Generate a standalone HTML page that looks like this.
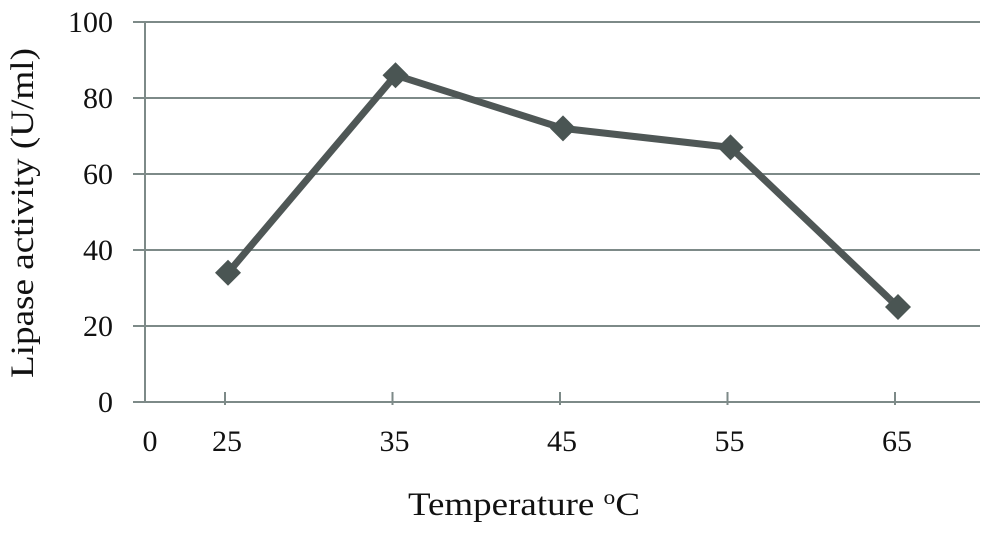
<!DOCTYPE html>
<html><head><meta charset="utf-8"><style>
body{margin:0;background:#fff;}
svg text{font-family:"Liberation Serif",serif;fill:#111;}
</style></head><body>
<svg width="1000" height="542" viewBox="0 0 1000 542">
<g id="grid"></g><g id="axes"></g><g id="series"></g><g id="labels"></g>
<text x="524" y="515" font-size="33" text-anchor="middle" textLength="232" lengthAdjust="spacingAndGlyphs">Temperature <tspan font-size="21" dy="-11">o</tspan><tspan dy="11">C</tspan></text>
<text transform="translate(33,213) rotate(-90)" font-size="33" text-anchor="middle" textLength="330" lengthAdjust="spacingAndGlyphs">Lipase activity (U/ml)</text>
</svg>
<script>
const categories=["25","35","45","55","65"];
const values=[34,86,72,67,25];
const yTicks=[0,20,40,60,80,100];
const NS="http://www.w3.org/2000/svg";
const L=145,R=980,T=22,B=402;
function y(v){return B-(v/100)*(B-T);}
function x(i){return 228+i*167.5;}
function mk(tag,attrs,parent){const e=document.createElementNS(NS,tag);for(const k in attrs)e.setAttribute(k,attrs[k]);parent.appendChild(e);return e;}
const grid=document.getElementById('grid'),axes=document.getElementById('axes'),series=document.getElementById('series'),labels=document.getElementById('labels');
yTicks.forEach(t=>{
 const g=mk('line',{x1:133,x2:R,y1:y(t),y2:y(t),stroke:'#7d8a88','stroke-width':2},grid);
 
 
 const tx=mk('text',{x:113,y:y(t)+10,'font-size':30,'text-anchor':'end'},labels);
 tx.textContent=t;
 
 
});
const ya=mk('line',{x1:L,x2:L,y1:T,y2:B,stroke:'#7d8a88','stroke-width':2},axes);


const zl=mk('text',{x:150,y:451,'font-size':30,'text-anchor':'middle'},labels);
zl.textContent='0';


categories.forEach((c,i)=>{
 const tk=mk('line',{x1:x(i)-3,x2:x(i)-3,y1:392,y2:405,stroke:'#7d8a88','stroke-width':2},axes);
 
 
 const tx=mk('text',{x:x(i)-1,y:451,'font-size':30,'text-anchor':'middle'},labels);
 tx.textContent=c;
 
 
});
const pts=values.map((v,i)=>x(i)+','+y(v)).join(' ');
const pl=mk('polyline',{points:pts,fill:'none',stroke:'#4f5756','stroke-width':7,'stroke-linejoin':'round'},series);


values.forEach((v,i)=>{
 const cx=x(i),cy=y(v),s=13;
 const d=mk('polygon',{points:`${cx},${cy-s} ${cx+s},${cy} ${cx},${cy+s} ${cx-s},${cy}`,fill:'#4a5553'},series);
 
 
});
</script>
</body></html>
